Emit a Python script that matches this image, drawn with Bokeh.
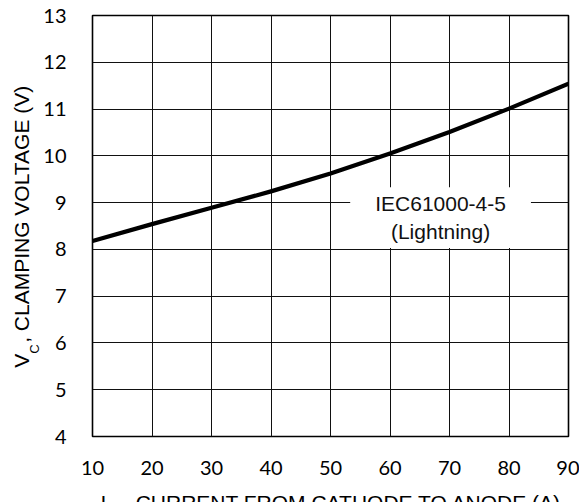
import math
from bokeh.plotting import figure
from bokeh.models import Range1d, FixedTicker, Label
from bokeh.layouts import row, column
from bokeh.embed import file_html
from bokeh.resources import INLINE

# data
current_a = [10, 20, 30, 40, 50, 60, 70, 80, 90]
clamp_v = [8.18, 8.54, 8.89, 9.24, 9.62, 10.05, 10.51, 11.01, 11.54]
x_ticks = [10, 20, 30, 40, 50, 60, 70, 80, 90]
y_ticks = [4, 5, 6, 7, 8, 9, 10, 11, 12, 13]
annot_text = "IEC61000-4-5\n(Lightning)"
annot_x = 68.5
annot_y = 8.68
y_title = ["V", "C", ", CLAMPING VOLTAGE (V)"]
x_title = ["I", "PP", ", CURRENT FROM CATHODE TO ANODE (A)"]

lab_font = "Liberation Sans"

# ---- main chart ----
p = figure(width=539, height=482, output_backend="svg", toolbar_location=None,
           x_range=Range1d(10, 90), y_range=Range1d(4, 13),
           min_border_left=50, min_border_right=11, min_border_top=15, min_border_bottom=46)
p.frame_align = False
p.background_fill_color = "white"
p.border_fill_color = "white"
p.outline_line_color = "black"
p.outline_line_width = 1.6

for ax, ticks in ((p.xaxis, x_ticks), (p.yaxis, y_ticks)):
    ax.ticker = FixedTicker(ticks=ticks)
    ax.axis_line_color = None
    ax.major_tick_line_color = None
    ax.minor_tick_line_color = None
    ax.major_label_text_font = "Lato"
    ax.major_label_text_font_size = "20px"
    ax.major_label_text_color = "black"
p.xaxis.major_label_standoff = 18
p.yaxis.major_label_standoff = 20

p.xgrid.ticker = FixedTicker(ticks=x_ticks)
p.ygrid.ticker = FixedTicker(ticks=y_ticks)
for g in (p.xgrid, p.ygrid):
    g.grid_line_color = "#111111"
    g.grid_line_width = 1

p.line(current_a, clamp_v, line_color="black", line_width=4.2, line_join="round")

p.add_layout(Label(x=annot_x, y=annot_y, text=annot_text, text_font=lab_font,
                   text_font_size="21px", text_color="#111111", text_align="center",
                   text_baseline="middle", background_fill_color="white",
                   padding=(25, 5)))


def text_strip(w, h):
    f = figure(width=w, height=h, output_backend="svg", toolbar_location=None,
               x_range=Range1d(0, w), y_range=Range1d(0, h),
               x_axis_location=None, y_axis_location=None,
               min_border=0, min_border_left=0, min_border_right=0,
               min_border_top=0, min_border_bottom=0)
    f.frame_align = False
    f.grid.visible = False
    f.outline_line_color = None
    f.background_fill_color = "white"
    f.border_fill_color = "white"
    return f


# ---- y axis title strip (left), texts centred on their anchors ----
yl = text_strip(40, 482)
yl.add_layout(Label(x=20.8, y=121.7, x_units="screen", y_units="screen", text=y_title[0],
                    angle=math.pi / 2, text_font=lab_font, text_font_size="21px",
                    text_align="center", text_baseline="middle", text_color="black"))
yl.add_layout(Label(x=33.5, y=133.4, x_units="screen", y_units="screen", text=y_title[1],
                    angle=math.pi / 2, text_font=lab_font, text_font_size="13px",
                    text_align="center", text_baseline="middle", text_color="black"))
yl.add_layout(Label(x=20.8, y=268.2, x_units="screen", y_units="screen", text=y_title[2],
                    angle=math.pi / 2, text_font=lab_font, text_font_size="21px",
                    text_align="center", text_baseline="middle", text_color="black"))

# ---- x axis title strip (bottom, cut by the window like the reference) ----
xl = text_strip(579, 20)
xl.add_layout(Label(x=100, y=0, x_units="screen", y_units="screen", text=x_title[0],
                    text_font=lab_font, text_font_size="21px",
                    text_align="left", text_baseline="alphabetic", text_color="black"))
xl.add_layout(Label(x=106, y=-4, x_units="screen", y_units="screen", text=x_title[1],
                    text_font=lab_font, text_font_size="13px",
                    text_align="left", text_baseline="alphabetic", text_color="black"))
xl.add_layout(Label(x=123.5, y=0, x_units="screen", y_units="screen", text=x_title[2],
                    text_font=lab_font, text_font_size="21px",
                    text_align="left", text_baseline="alphabetic", text_color="black"))

layout = column(row(yl, p, spacing=0), xl, spacing=0)
open("out.html", "w").write(file_html(layout, INLINE))
